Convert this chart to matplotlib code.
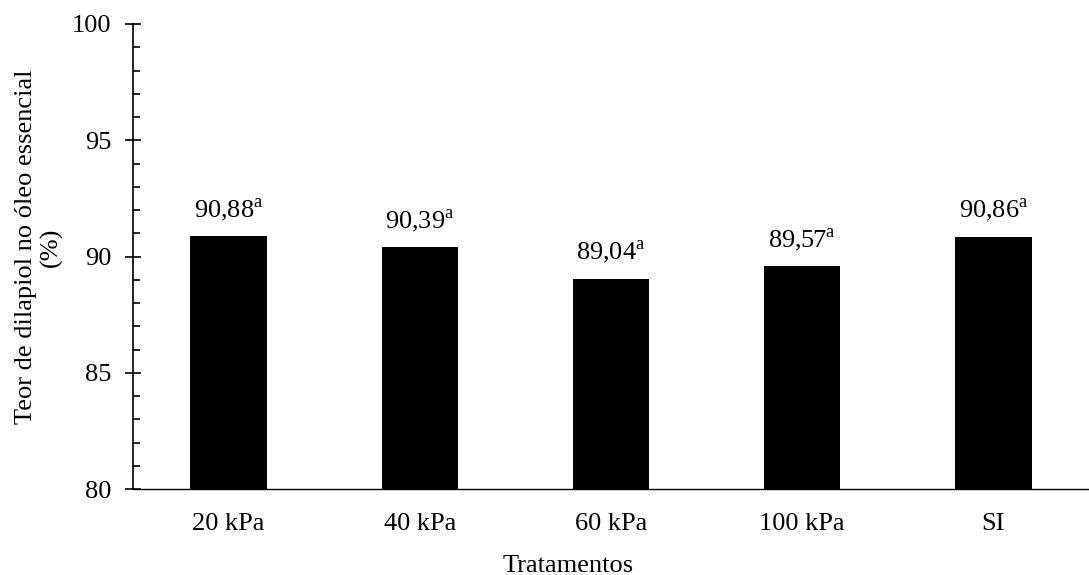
import numpy as np
import matplotlib.pyplot as plt
from matplotlib.ticker import MultipleLocator

plt.rcParams['font.family'] = ['Liberation Serif', 'DejaVu Serif']
plt.rcParams['mathtext.fontset'] = 'custom'
plt.rcParams['mathtext.rm'] = 'Liberation Serif'

# data
tratamentos = ["20 kPa", "40 kPa", "60 kPa", "100 kPa", "SI"]
teor = [90.88, 90.39, 89.04, 89.57, 90.86]
letras = ["a", "a", "a", "a", "a"]

fs = 19

fig = plt.figure(figsize=(10.89, 5.75), dpi=100)
ax = fig.add_axes([133/1089, 1 - 489/575, 1 - 133/1089, (489 - 24)/575])

x = np.arange(len(tratamentos))
ax.bar(x, teor, width=0.4, color="black")

# valores acima das barras, com letra em sobrescrito
for xi, v, l in zip(x, teor, letras):
    txt = ("%.2f" % v).replace(".", ",")
    ax.annotate(txt + r"$^{\mathrm{%s}}$" % l, (xi, v), xytext=(0, 9),
                textcoords="offset points", ha="center", va="bottom", fontsize=fs)

ax.set_xlim(-0.5, 4.5)
ax.set_ylim(80, 100)
ax.set_xticks(x)
ax.set_xticklabels(tratamentos, fontsize=fs)
ax.set_yticks([80, 85, 90, 95, 100])
ax.yaxis.set_minor_locator(MultipleLocator(1))
ax.tick_params(axis="y", which="major", direction="inout", length=11, width=1.2,
               labelsize=fs, pad=10)
ax.tick_params(axis="y", which="minor", direction="in", length=5, width=1.2)
ax.tick_params(axis="x", length=0, pad=17)

ax.spines["top"].set_visible(False)
ax.spines["right"].set_visible(False)
ax.spines["left"].set_linewidth(1.2)
ax.spines["bottom"].set_linewidth(1.0)

ax.set_ylabel("Teor de dilapiol no óleo essencial\n(%)", fontsize=fs)
ax.yaxis.set_label_coords(-0.073, 0.52)
ax.set_xlabel("Tratamentos", fontsize=fs)
ax.xaxis.set_label_coords(0.455, -0.142)

fig.savefig("out.png", dpi=100)
